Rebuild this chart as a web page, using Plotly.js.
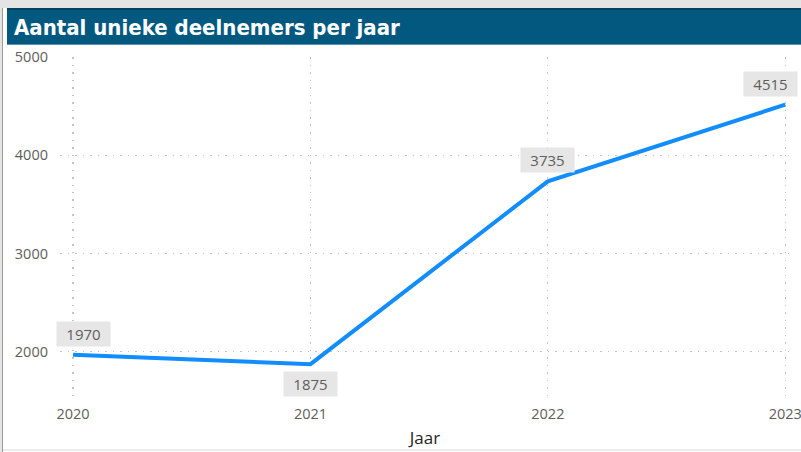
<!DOCTYPE html>
<html>
<head>
<meta charset="utf-8">
<script src="https://cdn.plot.ly/plotly-3.0.1.min.js"></script>
<style>
html,body{margin:0;padding:0;background:#fff;}
#chart{width:801px;height:452px;}
</style>
</head>
<body>
<div id="chart"></div>
<script>
const chartTitle = "Aantal unieke deelnemers per jaar";
const xTitle = "Jaar";
const years = [2020, 2021, 2022, 2023];
const participants = [1970, 1875, 3735, 4515];
const yTicks = [2000, 3000, 4000, 5000];

const tickFont = {family: "Open Sans, Noto Sans, sans-serif", size: 14.5, color: "#605E5C"};

const annotations = years.map((yr, i) => {
  const prev = i > 0 ? participants[i - 1] : null;
  const below = prev !== null && participants[i] < prev;
  let xshift = 0;
  if (i === 0) xshift = 10;
  if (i === years.length - 1) xshift = -15;
  return {
    x: yr, y: participants[i], xref: "x", yref: "y",
    text: String(participants[i]), showarrow: false,
    font: {family: "Open Sans, Noto Sans, sans-serif", size: 15, color: "#605E5C"},
    bgcolor: "#E6E6E6", borderpad: 4, width: 45, height: 16,
    xshift: xshift, yshift: below ? -20 : 21
  };
});

const shapes = [
  {type: "rect", xref: "paper", yref: "paper", xsizemode: "pixel", ysizemode: "pixel",
   xanchor: 0, yanchor: 1, x0: -60, x1: 741, y0: 49, y1: 57, line: {width: 0}, fillcolor: "#E4E4E4", layer: "below"},
  {type: "rect", xref: "paper", yref: "paper", xsizemode: "pixel", ysizemode: "pixel",
   xanchor: 0, yanchor: 1, x0: -60, x1: -58, y0: -400, y1: 57, line: {width: 0}, fillcolor: "#E4E4E4", layer: "below"},
  {type: "rect", xref: "paper", yref: "paper", xsizemode: "pixel", ysizemode: "pixel",
   xanchor: 0, yanchor: 1, x0: -58, x1: -57, y0: -400, y1: 49, line: {width: 0}, fillcolor: "#9A9A9A", layer: "below"},
  {type: "rect", xref: "paper", yref: "paper", xsizemode: "pixel", ysizemode: "pixel",
   xanchor: 0, yanchor: 0, x0: -57, x1: 741, y0: -50, y1: -48, line: {width: 0}, fillcolor: "#EBEBEB", layer: "below"},
  {type: "rect", xref: "paper", yref: "paper", xsizemode: "pixel", ysizemode: "pixel",
   xanchor: 0, yanchor: 1, x0: -53, x1: 741, y0: 13, y1: 49, line: {width: 0}, fillcolor: "#02587F", layer: "below"},
  {type: "rect", xref: "paper", yref: "paper", xsizemode: "pixel", ysizemode: "pixel",
   xanchor: 0, yanchor: 1, x0: -53, x1: 741, y0: 47, y1: 49, line: {width: 0}, fillcolor: "#0B3F5E", layer: "below"},
  {type: "rect", xref: "paper", yref: "paper", xsizemode: "pixel", ysizemode: "pixel",
   xanchor: 0, yanchor: 1, x0: -53, x1: 741, y0: 12, y1: 13, line: {width: 0}, fillcolor: "#5E93B0", layer: "below"}
];

const trace = {
  x: years, y: participants, type: "scatter", mode: "lines",
  line: {color: "#118DFF", width: 4, shape: "linear"},
  hoverinfo: "x+y"
};

const gridStyle = {showgrid: true, gridcolor: "#C4C4C4", griddash: "1.5px,6px", gridwidth: 1.2};

const layout = {
  width: 801, height: 452,
  margin: {l: 60, r: 11, t: 57, b: 51, pad: 0},
  paper_bgcolor: "#FFFFFF", plot_bgcolor: "#FFFFFF",
  showlegend: false,
  title: {
    text: "<b>" + chartTitle + "</b>",
    font: {family: "DejaVu Sans Condensed, DejaVu Sans, sans-serif", size: 22, color: "#FFFFFF"},
    xref: "container", yref: "container", x: 14 / 801, xanchor: "left",
    y: 1 - 27 / 452, yanchor: "middle"
  },
  xaxis: Object.assign({
    range: [2019.945, 2023.02], tickvals: years, ticktext: years.map(String),
    zeroline: false, showline: false, ticks: "",
    tickfont: tickFont, ticklabelstandoff: 2, ticklabeloverflow: "allow",
    title: {text: xTitle, font: {family: "Open Sans, Noto Sans, sans-serif", size: 17, color: "#252423"}, standoff: 10}
  }, gridStyle),
  yaxis: Object.assign({
    range: [1500, 5000], tickvals: yTicks,
    zeroline: false, showline: false, ticks: "",
    tickfont: tickFont, ticklabelstandoff: 11
  }, gridStyle),
  shapes: shapes,
  annotations: annotations
};

Plotly.newPlot("chart", [trace], layout, {displayModeBar: false, staticPlot: true});
</script>
</body>
</html>
